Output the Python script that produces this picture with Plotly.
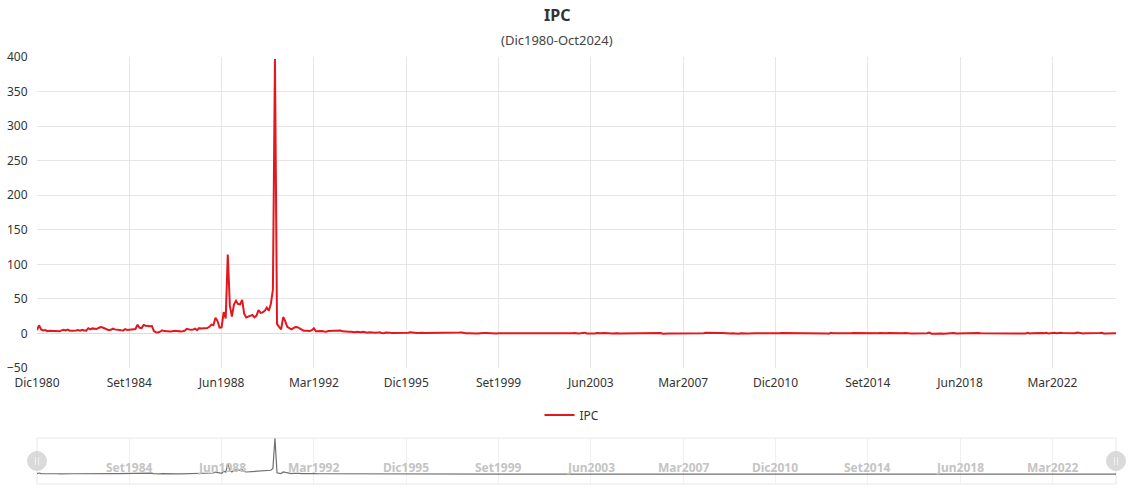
import plotly.graph_objects as go

# ---------------- data (monthly % change of IPC) ----------------
month_names = ["Ene", "Feb", "Mar", "Abr", "May", "Jun", "Jul", "Ago", "Set", "Oct", "Nov", "Dic"]
start_year, start_month = 1980, 12  # Dic1980

ipc_1980 = [5.0]
ipc_1981 = [11.8, 5.8, 4.4, 4.9, 3.2, 3.9, 3.6, 3.4, 3.2, 3.4, 3.1, 4.4]
ipc_1982 = [5.3, 4.3, 5.5, 3.9, 3.5, 3.9, 4.3, 4.9, 4.1, 5.4, 4.4, 4.1]
ipc_1983 = [7.6, 5.8, 7.3, 6.9, 6.4, 7.9, 9.2, 8.5, 6.9, 5.0, 4.6, 5.3]
ipc_1984 = [6.9, 5.9, 5.2, 5.5, 4.6, 4.4, 6.3, 5.1, 5.3, 5.6, 6.2, 6.4]
ipc_1985 = [12.6, 8.1, 7.7, 12.2, 11.1, 10.3, 10.5, 10.8, 3.5, 1.6, 1.5, 2.5]
ipc_1986 = [4.5, 3.4, 3.0, 3.2, 2.9, 3.0, 3.9, 3.6, 3.1, 3.0, 3.3, 3.9]
ipc_1987 = [6.6, 5.6, 5.2, 5.5, 6.8, 4.8, 7.6, 7.1, 7.3, 6.8, 7.7, 9.6]
ipc_1988 = [12.8, 11.8, 22.6, 17.9, 8.5, 8.8, 30.9, 21.7, 114.1, 40.6, 24.4, 41.9]
ipc_1989 = [47.3, 42.5, 42.0, 48.6, 28.6, 23.1, 24.6, 25.1, 26.9, 23.3, 25.8, 33.8]
ipc_1990 = [29.8, 30.5, 32.6, 37.3, 32.8, 42.6, 63.2, 397.0, 13.8, 9.6, 5.9, 23.7]
ipc_1991 = [17.8, 9.4, 7.7, 5.8, 7.6, 9.3, 9.1, 7.2, 5.6, 4.0, 3.9, 3.7]
ipc_1992 = [3.5, 4.7, 7.4, 3.2, 3.4, 3.6, 3.5, 2.8, 2.6, 3.6, 3.7, 3.8]
ipc_1993 = [4.8, 4.6, 5.0, 4.1, 3.0, 2.5, 2.5, 2.4, 2.6, 1.8, 1.7, 2.4]
ipc_1994 = [1.8, 1.7, 2.4, 1.4, 1.2, 1.6, 1.0, 0.5, 0.9, 1.2, 1.7, 0.7]
ipc_1995 = [0.2, 1.3, 1.5, 1.0, 0.8, 0.8, 0.8, 0.4, 0.5, 0.4, 0.6, 0.5]
ipc_1996 = [1.0, 1.7, 1.1, 1.3, 0.6, 0.6, 1.3, 0.9, 0.6, 0.6, 0.6, 0.6]
ipc_1997 = [0.9, 0.4, 1.0, 0.7, 0.2, 0.4, 0.6, 0.6, 0.5, 0.2, 0.3, 0.6]
ipc_1998 = [0.3, 1.2, 1.3, 0.6, 0.4, 0.4, 0.3, 0.2, -0.4, -0.2, -0.2, 0.4]
ipc_1999 = [0.1, 0.6, 0.7, 0.4, 0.3, 0.2, 0.2, 0.1, 0.4, 0.4, 0.3, 0.2]
ipc_2000 = [0.1, 0.5, 0.5, 0.4, 0.0, 0.1, 0.5, 0.3, 0.5, 0.0, 0.2, -0.1]
ipc_2001 = [-0.1, -0.5, 0.5, 0.5, -0.1, -0.2, 0.0, -0.3, 0.4, -0.5, -0.4, -0.1]
ipc_2002 = [-0.1, -0.1, 0.5, 0.5, 0.1, -0.2, -0.1, 0.1, 0.4, 0.7, -0.1, -0.1]
ipc_2003 = [0.2, 0.5, 1.1, 0.0, -0.1, -0.5, -0.2, 0.0, 0.6, 0.0, 0.2, 0.6]
ipc_2004 = [0.6, 1.1, 0.3, 0.0, 0.4, 0.6, 0.2, 0.0, 0.0, 0.0, 0.2, 0.0]
ipc_2005 = [0.1, -0.2, 0.6, 0.1, 0.1, 0.2, 0.1, -0.2, 0.0, 0.1, 0.1, 0.4]
ipc_2006 = [0.5, 0.6, 0.5, 0.5, -0.5, -0.1, 0.2, 0.1, 0.0, 0.0, -0.2, -0.1]
ipc_2007 = [0.0, 0.3, 0.3, 0.2, 0.5, 0.5, 0.5, 0.1, 0.6, 0.3, 0.1, 0.5]
ipc_2008 = [0.2, 0.9, 1.0, 0.2, 0.4, 0.8, 0.6, 0.6, 0.6, 0.6, 0.3, 0.4]
ipc_2009 = [0.1, -0.1, 0.4, 0.0, 0.0, -0.3, 0.2, -0.2, -0.1, 0.1, -0.1, 0.3]
ipc_2010 = [0.3, 0.3, 0.3, 0.0, 0.2, 0.3, 0.4, 0.3, 0.0, -0.1, 0.0, 0.2]
ipc_2011 = [0.4, 0.4, 0.7, 0.7, 0.0, 0.1, 0.8, 0.3, 0.3, 0.3, 0.4, 0.3]
ipc_2012 = [-0.1, 0.3, 0.8, 0.5, 0.0, 0.0, 0.1, 0.5, 0.5, -0.2, -0.1, 0.3]
ipc_2013 = [0.1, -0.4, 0.9, 0.3, 0.2, 0.3, 0.6, 0.5, 0.1, 0.0, -0.2, 0.2]
ipc_2014 = [0.3, 0.6, 0.5, 0.4, 0.2, 0.2, 0.4, -0.1, 0.2, 0.4, -0.1, 0.2]
ipc_2015 = [0.2, 0.3, 0.8, 0.4, 0.6, 0.3, 0.5, 0.4, 0.0, 0.1, 0.3, 0.5]
ipc_2016 = [0.4, 0.2, 0.6, 0.0, 0.2, 0.1, 0.1, 0.4, 0.2, 0.4, 0.3, 0.3]
ipc_2017 = [0.2, 0.3, 1.3, -0.3, -0.4, -0.2, 0.2, 0.7, 0.0, -0.5, -0.2, 0.2]
ipc_2018 = [0.1, 0.3, 0.5, -0.1, 0.0, 0.3, 0.4, 0.1, 0.1, 0.1, 0.1, 0.2]
ipc_2019 = [0.1, 0.1, 0.7, 0.2, 0.2, -0.1, 0.2, 0.0, 0.0, 0.1, 0.1, 0.2]
ipc_2020 = [0.1, 0.1, 0.7, 0.0, 0.3, -0.3, 0.5, -0.1, 0.1, 0.0, -0.1, 0.1]
ipc_2021 = [0.7, -0.1, 0.8, -0.1, 0.3, 0.5, 1.0, 1.0, 0.4, 0.6, 0.4, 0.8]
ipc_2022 = [0.0, 0.3, 1.5, 1.0, 0.4, 1.2, 0.9, 0.7, 0.5, 0.3, 0.5, 0.8]
ipc_2023 = [0.2, 0.3, 1.3, 0.6, 0.3, -0.2, 0.4, 0.4, 0.0, -0.3, -0.2, 0.4]
ipc_2024 = [0.0, 0.6, 1.0, -0.1, 0.1, 0.1, 0.2, 0.3, 0.3, 0.2]

tick_labels = ["Dic1980", "Set1984", "Jun1988", "Mar1992", "Dic1995", "Set1999",
               "Jun2003", "Mar2007", "Dic2010", "Set2014", "Jun2018", "Mar2022"]
y_ticks = [-50, 0, 50, 100, 150, 200, 250, 300, 350, 400]

series_name = "IPC"
title_text = "IPC"
subtitle_text = "(Dic1980-Oct2024)"

# ---------------- assemble ----------------
years = [ipc_1980, ipc_1981, ipc_1982, ipc_1983, ipc_1984, ipc_1985, ipc_1986, ipc_1987,
         ipc_1988, ipc_1989, ipc_1990, ipc_1991, ipc_1992, ipc_1993, ipc_1994, ipc_1995,
         ipc_1996, ipc_1997, ipc_1998, ipc_1999, ipc_2000, ipc_2001, ipc_2002, ipc_2003,
         ipc_2004, ipc_2005, ipc_2006, ipc_2007, ipc_2008, ipc_2009, ipc_2010, ipc_2011,
         ipc_2012, ipc_2013, ipc_2014, ipc_2015, ipc_2016, ipc_2017, ipc_2018, ipc_2019,
         ipc_2020, ipc_2021, ipc_2022, ipc_2023, ipc_2024]
values = [v for yr in years for v in yr]

labels = []
y, m = start_year, start_month
for _ in values:
    labels.append(f"{month_names[m - 1]}{y}")
    m += 1
    if m > 12:
        m = 1
        y += 1

n = len(values)
W, H = 1146, 490
ML, MR, MT, MB = 37, 30, 57, 6
plot_h = H - MT - MB
slider_top_px, slider_bot_px = 438, 484
main_bot_px = 368


def py(px):  # pixel y -> paper y
    return (H - MB - px) / plot_h


def pxx(px):  # pixel x -> paper x
    return (px - ML) / (W - ML - MR)


FONT = "Noto Sans, Open Sans, sans-serif"
RED = "#e3171d"
GRID = "#e6e6e6"

fig = go.Figure()
fig.add_trace(go.Scatter(x=labels, y=values, mode="lines", name=series_name,
                         line=dict(color=RED, width=2), xaxis="x", yaxis="y",
                         hoverinfo="x+y"))
fig.add_trace(go.Scatter(x=labels, y=values, mode="lines", showlegend=False,
                         line=dict(color="#707070", width=1.2), xaxis="x2", yaxis="y2",
                         hoverinfo="skip"))

annotations = [
    dict(text=f"<b>{title_text}</b>", x=pxx(557), y=py(15), xref="paper", yref="paper",
         showarrow=False, font=dict(size=16, color="#333", family=FONT), xanchor="center", yanchor="middle"),
    dict(text=subtitle_text, x=pxx(557), y=py(40), xref="paper", yref="paper",
         showarrow=False, font=dict(size=13, color="#444", family=FONT), xanchor="center", yanchor="middle"),
]
for lab in tick_labels[1:]:
    annotations.append(dict(text=f"<b>{lab}</b>", x=lab, y=py(467), xref="x2", yref="paper",
                            showarrow=False, font=dict(size=12, color="#c4c4c4", family=FONT),
                            xanchor="center", yanchor="middle"))

shapes = [
    dict(type="rect", xref="x2 domain", yref="y2 domain", x0=0, x1=1, y0=0, y1=1,
         line=dict(color="#e8e8e8", width=1), fillcolor="rgba(0,0,0,0)", layer="below"),
]
r = 9.5
for cx in (ML, W - MR):
    shapes.append(dict(type="circle", xref="paper", yref="paper",
                       x0=pxx(cx - r), x1=pxx(cx + r), y0=py(461 + r), y1=py(461 - r),
                       fillcolor="#d6d6d6", line=dict(color="#d6d6d6", width=1), opacity=0.9))
    for dx in (-1.5, 1.5):
        shapes.append(dict(type="line", xref="paper", yref="paper",
                           x0=pxx(cx + dx), x1=pxx(cx + dx), y0=py(457), y1=py(465),
                           line=dict(color="#f2f2f2", width=1)))

fig.update_layout(
    width=W, height=H,
    margin=dict(l=ML, r=MR, t=MT, b=MB, autoexpand=False),
    paper_bgcolor="white", plot_bgcolor="white",
    font=dict(family=FONT, size=12, color="#333"),
    showlegend=True,
    legend=dict(orientation="h", x=pxx(572), y=py(415), xanchor="center", yanchor="middle",
                font=dict(size=12, color="#333", family=FONT), itemwidth=30,
                bgcolor="rgba(0,0,0,0)"),
    xaxis=dict(type="category", categoryorder="array", categoryarray=labels,
               range=[0, n - 1], tickmode="array", tickvals=tick_labels, ticktext=tick_labels,
               showgrid=True, gridcolor=GRID, gridwidth=1, showline=False, zeroline=False,
               ticks="outside", ticklen=4, tickcolor="rgba(0,0,0,0)", automargin=False,
               tickfont=dict(size=12, color="#333"), anchor="y", domain=[0, 1]),
    yaxis=dict(range=[-50, 400], tickmode="array", tickvals=y_ticks,
               showgrid=True, gridcolor=GRID, gridwidth=1, zeroline=True, zerolinecolor="#dcdcdc",
               zerolinewidth=1, showline=False, ticks="outside", ticklen=6, automargin=False,
               tickcolor="rgba(0,0,0,0)", tickfont=dict(size=12, color="#333"),
               domain=[py(main_bot_px), 1], anchor="x"),
    xaxis2=dict(type="category", categoryorder="array", categoryarray=labels,
                range=[0, n - 1], tickmode="array", tickvals=tick_labels, showticklabels=False,
                showgrid=True, gridcolor="#f0f0f0", showline=False, zeroline=False,
                automargin=False, anchor="y2", domain=[0, 1]),
    yaxis2=dict(range=[-110, 400], showgrid=False, showticklabels=False, zeroline=False,
                showline=False, automargin=False,
                domain=[py(slider_bot_px), py(slider_top_px)], anchor="x2"),
    annotations=annotations,
    shapes=shapes,
    hovermode="closest",
)

fig.write_html("out.html", post_script="document.body.style.margin='0px';",
               config={"responsive": False, "displayModeBar": False})
